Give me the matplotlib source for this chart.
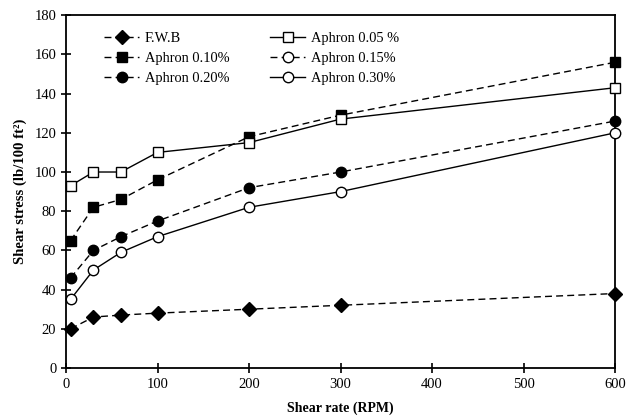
import matplotlib
matplotlib.use("Agg")
import matplotlib.pyplot as plt

# Shear rate (RPM) readings
shear_rate = [5, 30, 60, 100, 200, 300, 600]

# Shear stress (lb/100 ft2) per fluid
fwb = [20, 26, 27, 28, 30, 32, 38]
aphron_005 = [93, 100, 100, 110, 115, 127, 143]
aphron_010 = [65, 82, 86, 96, 118, 129, 156]
aphron_015 = []  # listed in the legend, no points visible on the plot
aphron_020 = [46, 60, 67, 75, 92, 100, 126]
aphron_030 = [35, 50, 59, 67, 82, 90, 120]

x_ticks = [0, 100, 200, 300, 400, 500, 600]
y_ticks = [0, 20, 40, 60, 80, 100, 120, 140, 160, 180]

plt.rcParams["font.family"] = ["Liberation Serif", "DejaVu Serif"]

fig = plt.figure(figsize=(6.37, 4.18), dpi=100)
ax = fig.add_axes([0.1036, 0.1196, 0.862, 0.844])

dash = (0, (5, 3))
ms = 7.5
series = [
    ("F.W.B", fwb, "D", "black", dash),
    ("Aphron 0.10%", aphron_010, "s", "black", dash),
    ("Aphron 0.20%", aphron_020, "o", "black", dash),
    ("Aphron 0.05 %", aphron_005, "s", "white", "-"),
    ("Aphron 0.15%", aphron_015, "o", "white", dash),
    ("Aphron 0.30%", aphron_030, "o", "white", "-"),
]
for label, ys, marker, face, ls in series:
    xs = shear_rate[:len(ys)]
    ax.plot(xs, ys, color="black", linestyle=ls, linewidth=1.0,
            marker=marker, markersize=ms if marker != "D" else ms - 0.5,
            markerfacecolor=face, markeredgecolor="black",
            markeredgewidth=1.0, label=label, clip_on=False, zorder=3)

ax.set_xlim(0, 600)
ax.set_ylim(0, 180)
ax.set_xticks(x_ticks)
ax.set_yticks(y_ticks)
ax.tick_params(direction="inout", length=7, width=1.2, labelsize=10.5,
               colors="black")
for side in ax.spines.values():
    side.set_linewidth(1.3)

ax.set_xlabel("Shear rate (RPM)", fontsize=10, fontweight="bold",
              labelpad=8)
ax.set_ylabel("Shear stress (lb/100 ft²)", fontsize=10.6,
              fontweight="bold", labelpad=5)

ax.legend(ncol=2, loc="upper left", bbox_to_anchor=(0.046, 0.99),
          frameon=False, fontsize=10.4, handlelength=2.4,
          columnspacing=2.85, labelspacing=0.48, handletextpad=0.4)

fig.savefig("out.png", dpi=100)
